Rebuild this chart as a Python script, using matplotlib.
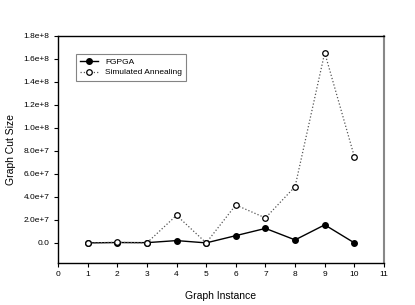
import matplotlib
matplotlib.use('Agg')
import matplotlib.pyplot as plt
import numpy as np

# graph instances and cut sizes
instances = [1, 2, 3, 4, 5, 6, 7, 8, 9, 10]
fgpga = [0, 3e5, 2e5, 2.0e6, 0, 6.3e6, 1.26e7, 2.6e6, 1.57e7, 0]
annealing = [0, 5e5, 0, 2.4e7, 0, 3.3e7, 2.17e7, 4.9e7, 1.655e8, 7.5e7]
yticks = np.arange(0, 1.81e8, 2e7)
ytick_labels = ['0.0', '2.0e+7', '4.0e+7', '6.0e+7', '8.0e+7', '1.0e+8',
                '1.2e+8', '1.4e+8', '1.6e+8', '1.8e+8']

plt.rcParams['font.family'] = ['Liberation Sans', 'DejaVu Sans']

fig = plt.figure(figsize=(4.15, 3.05), dpi=100)
ax = fig.add_axes([58 / 415, 1 - 263 / 305, (384 - 58) / 415, (263 - 36) / 305])

ax.plot(instances, fgpga, '-', color='black', lw=1.0, marker='o',
        markersize=4, markerfacecolor='black', markeredgecolor='black',
        label='FGPGA')
ax.plot(instances, annealing, ':', color='#555555', lw=0.9, marker='o',
        markersize=4, markerfacecolor='white', markeredgecolor='black',
        markeredgewidth=0.9, label='Simulated Annealing')

ax.set_xlim(0, 11)
ax.set_ylim(-1.75e7, 1.8e8)
ax.set_xticks(range(0, 12))
ax.set_yticks(yticks)
ax.set_yticklabels(ytick_labels)
ax.tick_params(labelsize=6, length=3, width=0.8, direction='out', pad=3,
               top=False, right=False)
for side in ['left', 'bottom', 'top']:
    ax.spines[side].set_linewidth(1.0)
ax.spines['right'].set_color('#888888')
ax.spines['right'].set_linewidth(1.5)

ax.set_xlabel('Graph Instance', fontsize=7.5)
ax.set_ylabel('Graph Cut Size', fontsize=7.5)
ax.xaxis.set_label_coords(0.5, -0.122)
ax.yaxis.set_label_coords(-0.13, 0.5)

leg = ax.legend(loc='upper left', bbox_to_anchor=(0.055, 0.92), fontsize=6,
                frameon=True, fancybox=False, edgecolor='#666666',
                borderaxespad=0, handlelength=2.2, borderpad=0.5,
                labelspacing=0.3)
leg.get_frame().set_linewidth(0.8)

fig.savefig('out.png', dpi=100)
